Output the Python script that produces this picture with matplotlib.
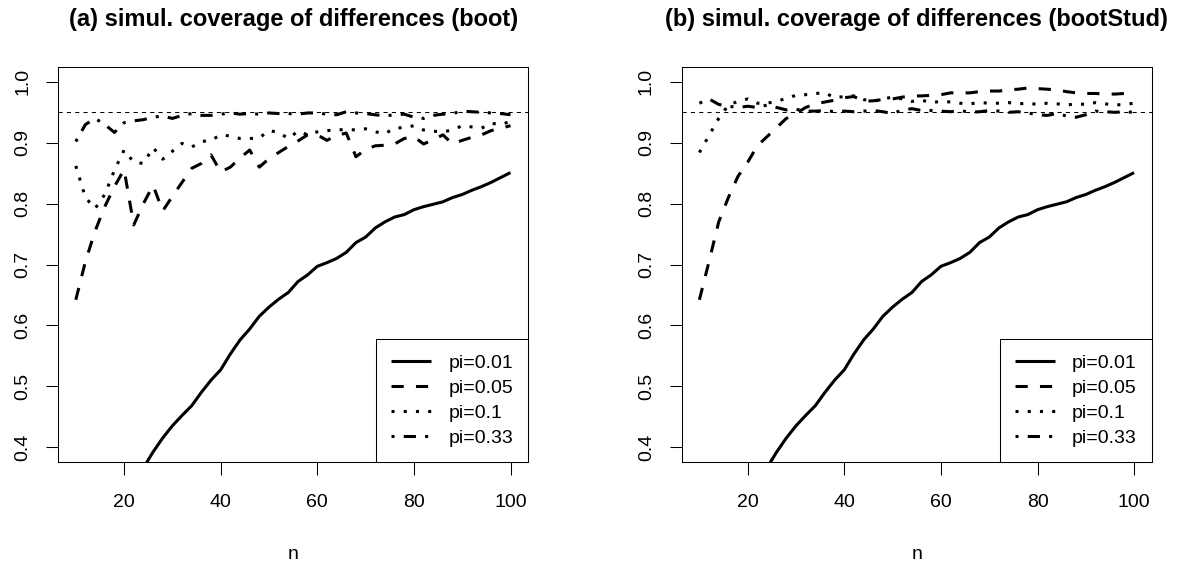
import matplotlib
matplotlib.use("Agg")
import matplotlib.pyplot as plt

plt.rcParams['font.family'] = ['Liberation Sans', 'DejaVu Sans']

n = [10, 12, 14, 16, 18, 20, 22, 24, 26, 28, 30, 32, 34, 36, 38, 40, 42, 44, 46, 48,
     50, 52, 54, 56, 58, 60, 62, 64, 66, 68, 70, 72, 74, 76, 78, 80, 82, 84, 86, 88,
     90, 92, 94, 96, 98, 100]

# pi = 0.01 (same in both panels)
cov_001 = [0.14, 0.17, 0.20, 0.23, 0.26, 0.29, 0.32, 0.366, 0.392, 0.415, 0.435, 0.452,
           0.468, 0.49, 0.51, 0.527, 0.553, 0.576, 0.594, 0.615, 0.63, 0.643, 0.654,
           0.672, 0.683, 0.697, 0.703, 0.71, 0.72, 0.736, 0.745, 0.76, 0.77, 0.778,
           0.782, 0.79, 0.795, 0.799, 0.803, 0.81, 0.815, 0.822, 0.828, 0.835, 0.843, 0.851]

# panel (a) boot
boot_005 = [0.642, 0.705, 0.755, 0.795, 0.828, 0.856, 0.765, 0.80, 0.83, 0.788, 0.812,
            0.835, 0.858, 0.866, 0.88, 0.852, 0.860, 0.875, 0.888, 0.860, 0.874, 0.884,
            0.894, 0.903, 0.913, 0.913, 0.904, 0.912, 0.916, 0.877, 0.889, 0.895, 0.896,
            0.898, 0.907, 0.91, 0.898, 0.905, 0.913, 0.898, 0.904, 0.909, 0.913, 0.92,
            0.924, 0.928]
boot_01 = [0.862, 0.81, 0.792, 0.815, 0.855, 0.888, 0.868, 0.866, 0.892, 0.873, 0.886,
           0.899, 0.893, 0.902, 0.904, 0.913, 0.911, 0.907, 0.907, 0.908, 0.92, 0.917,
           0.907, 0.919, 0.913, 0.918, 0.92, 0.921, 0.922, 0.921, 0.923, 0.918, 0.915,
           0.924, 0.925, 0.928, 0.921, 0.919, 0.918, 0.921, 0.928, 0.926, 0.924, 0.932,
           0.93, 0.935]
boot_033 = [0.902, 0.93, 0.94, 0.93, 0.917, 0.933, 0.936, 0.938, 0.942, 0.944, 0.94,
            0.945, 0.948, 0.945, 0.945, 0.947, 0.949, 0.947, 0.948, 0.947, 0.949, 0.948,
            0.948, 0.947, 0.949, 0.949, 0.947, 0.946, 0.951, 0.949, 0.948, 0.946, 0.944,
            0.946, 0.947, 0.942, 0.94, 0.945, 0.947, 0.948, 0.952, 0.951, 0.95, 0.949,
            0.948, 0.946]

# panel (b) bootStud
stud_005 = [0.642, 0.705, 0.77, 0.81, 0.845, 0.868, 0.895, 0.91, 0.925, 0.94, 0.948,
            0.958, 0.964, 0.967, 0.970, 0.974, 0.976, 0.968, 0.969, 0.971, 0.972, 0.975,
            0.977, 0.977, 0.978, 0.979, 0.982, 0.982, 0.982, 0.984, 0.985, 0.985, 0.987,
            0.988, 0.99, 0.989, 0.988, 0.987, 0.984, 0.982, 0.981, 0.981, 0.98, 0.98,
            0.981, 0.981]
stud_01 = [0.884, 0.912, 0.94, 0.962, 0.968, 0.972, 0.965, 0.965, 0.968, 0.973, 0.978,
           0.979, 0.981, 0.982, 0.974, 0.976, 0.977, 0.971, 0.968, 0.972, 0.975, 0.972,
           0.968, 0.97, 0.966, 0.968, 0.967, 0.965, 0.964, 0.966, 0.965, 0.965, 0.966,
           0.964, 0.965, 0.963, 0.965, 0.964, 0.962, 0.964, 0.963, 0.966, 0.964, 0.962,
           0.963, 0.965]
stud_033 = [0.965, 0.972, 0.963, 0.96, 0.958, 0.96, 0.958, 0.962, 0.958, 0.954, 0.955,
            0.952, 0.952, 0.953, 0.951, 0.952, 0.951, 0.952, 0.953, 0.951, 0.948, 0.954,
            0.956, 0.953, 0.953, 0.952, 0.951, 0.953, 0.95, 0.951, 0.953, 0.952, 0.95,
            0.951, 0.949, 0.946, 0.945, 0.948, 0.944, 0.942, 0.946, 0.952, 0.951, 0.95,
            0.951, 0.95]

labels = ["pi=0.01", "pi=0.05", "pi=0.1", "pi=0.33"]
titles = ["(a) simul. coverage of differences (boot)",
          "(b) simul. coverage of differences (bootStud)"]
xticks = [20, 40, 60, 80, 100]
yticks = [0.4, 0.5, 0.6, 0.7, 0.8, 0.9, 1.0]
nominal = 0.95

panels = [[cov_001, boot_005, boot_01, boot_033],
          [cov_001, stud_005, stud_01, stud_033]]

styles = ['-', (0, (4, 4)), (0, (1, 3)), (0, (1, 3, 4, 3))]

W, H = 1182, 565
fig = plt.figure(figsize=(W / 100, H / 100), dpi=100)
lefts = [58.4, 682.0]
width = 469.5
top, bottom = 67.3, 461.7

for k, series in enumerate(panels):
    ax = fig.add_axes([lefts[k] / W, (H - bottom) / H, width / W, (bottom - top) / H])
    for s, ls, lab in zip(series, styles, labels):
        ax.plot(n, s, color='black', linestyle=ls, linewidth=2.2, label=lab,
                solid_capstyle='butt', dash_capstyle='butt')
    ax.axhline(nominal, color='black', linestyle=(0, (4, 4)), linewidth=0.75)
    ax.set_xlim(6.4, 103.6)
    ax.set_ylim(0.376, 1.024)
    ax.set_xticks(xticks)
    ax.set_yticks(yticks)
    ax.set_yticklabels([f"{v:.1f}" for v in yticks], rotation=90, va='center')
    ax.tick_params(axis='both', direction='out', length=9, width=0.75, labelsize=14,
                   color='black')
    ax.tick_params(axis='x', pad=14)
    ax.tick_params(axis='y', pad=10.5)
    for sp in ax.spines.values():
        sp.set_linewidth(0.75)
    ax.set_title(titles[k], fontsize=17, fontweight='bold', pad=29.7)
    ax.set_xlabel('n', fontsize=14)
    ax.xaxis.set_label_coords(0.5, -0.2125)
    leg = ax.legend(loc='lower right', borderaxespad=0, fontsize=14, fancybox=False,
                    framealpha=1, edgecolor='black', handlelength=2.06,
                    handletextpad=0.9, borderpad=0.75, labelspacing=0.39)
    leg.get_frame().set_linewidth(0.75)

fig.savefig('out.png', dpi=100)
